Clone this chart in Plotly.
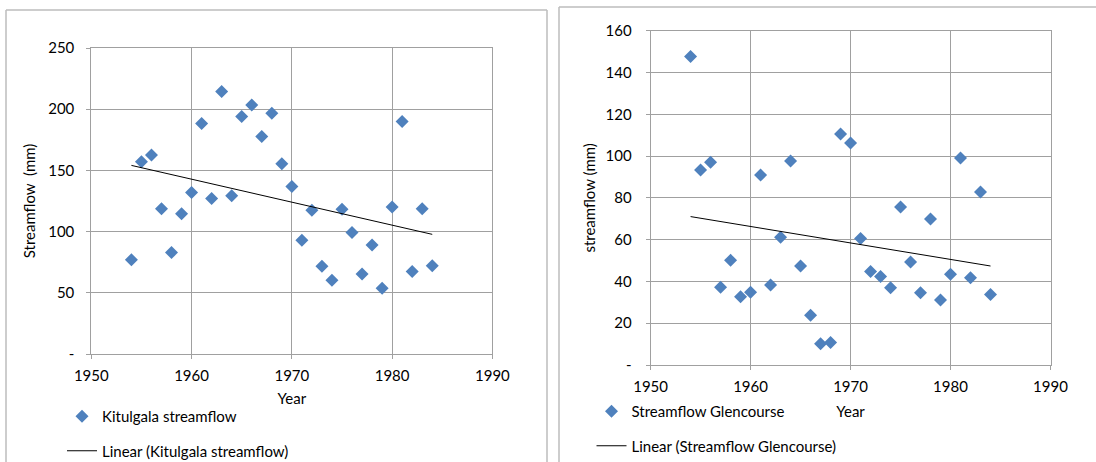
import numpy as np
import plotly.graph_objects as go

# ---------------- data ----------------
years = list(range(1954, 1985))

kitulgala = [77, 157, 162.5, 118.6, 82.9, 114.5, 132, 188.4, 127, 214.5,
             129.2, 194, 203.4, 177.7, 196.6, 155.4, 136.8, 93, 117.5, 71.7,
             60.2, 118.3, 99.2, 65.4, 89.1, 53.7, 120, 190, 67.3, 118.6, 72]

glencourse = [147.6, 93.3, 97, 37.2, 50.1, 32.7, 34.8, 90.9, 38.3, 61.1,
              97.6, 47.4, 23.8, 10.2, 10.8, 110.5, 106.2, 60.5, 44.8, 42.3,
              37, 75.6, 49.3, 34.6, 69.9, 31.1, 43.4, 99.1, 41.8, 82.8, 33.7]

x_ticks = [1950, 1960, 1970, 1980, 1990]
y1_ticks = [0, 50, 100, 150, 200, 250]
y1_text = ["-", "50", "100", "150", "200", "250"]
y2_ticks = [0, 20, 40, 60, 80, 100, 120, 140, 160]
y2_text = ["-", "20", "40", "60", "80", "100", "120", "140", "160"]

name1 = "Kitulgala streamflow"
name2 = "Streamflow Glencourse"

# ---------------- styling ----------------
W, H = 1096, 462
FONT = "Lato, Carlito, 'Open Sans', sans-serif"
FS = 15
BLUE = "#4F81BD"
GRID = "#a0a0a0"
BORDER = "#bdbdbd"


def px(x):
    return x / W


def py(y):
    return 1 - y / H


def trend(xs, ys):
    m, b = np.polyfit(xs, ys, 1)
    xe = [xs[0], xs[-1]]
    return xe, [m * v + b for v in xe]


fig = go.Figure()

# left chart
fig.add_trace(go.Scatter(x=years, y=kitulgala, mode="markers", name=name1,
                         marker=dict(symbol="diamond", size=10, color=BLUE),
                         xaxis="x", yaxis="y", legend="legend", legendgroup="a"))
tx, ty = trend(years, kitulgala)
fig.add_trace(go.Scatter(x=tx, y=ty, mode="lines", name="Linear (" + name1 + ")",
                         line=dict(color="black", width=1),
                         xaxis="x", yaxis="y", legend="legend", legendgroup="b"))

# right chart
fig.add_trace(go.Scatter(x=years, y=glencourse, mode="markers", name=name2,
                         marker=dict(symbol="diamond", size=10, color=BLUE),
                         xaxis="x2", yaxis="y2", legend="legend2", legendgroup="c"))
tx2, ty2 = trend(years, glencourse)
fig.add_trace(go.Scatter(x=tx2, y=ty2, mode="lines", name="Linear (" + name2 + ")",
                         line=dict(color="black", width=1),
                         xaxis="x2", yaxis="y2", legend="legend2", legendgroup="d"))

axis_common = dict(showgrid=True, gridcolor=GRID, gridwidth=1,
                   showline=True, linecolor=GRID, linewidth=1, mirror=True,
                   ticks="outside", ticklen=4, tickcolor=GRID,
                   zeroline=False, tickfont=dict(size=FS, color="#000"),
                   fixedrange=True, automargin=False)

fig.update_layout(
    width=W, height=H,
    margin=dict(l=0, r=0, t=0, b=0, autoexpand=False),
    paper_bgcolor="white", plot_bgcolor="white",
    font=dict(family=FONT, size=FS, color="#000"),
    xaxis=dict(domain=[px(91.3), px(492.4)], range=[1950, 1990],
               tickvals=x_ticks, anchor="y", ticklabelstandoff=4,
               title=dict(text="Year", standoff=10, font=dict(size=FS)),
               **axis_common),
    yaxis=dict(domain=[py(354), py(48)], range=[0, 250],
               tickvals=y1_ticks, ticktext=y1_text, anchor="x",
               ticklabelstandoff=9,
               title=dict(text="Streamflow&nbsp; (mm)", standoff=8, font=dict(size=FS)),
               **axis_common),
    xaxis2=dict(domain=[px(650.6), px(1050.5)], range=[1950, 1990],
                tickvals=x_ticks, anchor="y2", ticklabelstandoff=4,
                title=dict(text="Year", standoff=12, font=dict(size=FS)),
                **axis_common),
    yaxis2=dict(domain=[py(365), py(30.7)], range=[0, 160],
                tickvals=y2_ticks, ticktext=y2_text, anchor="x2",
                ticklabelstandoff=11,
                title=dict(text="streamflow (mm)", standoff=6, font=dict(size=FS)),
                **axis_common),
    legend=dict(x=px(62), y=py(400), xanchor="left", yanchor="top",
                bgcolor="rgba(0,0,0,0)", font=dict(size=FS),
                traceorder="grouped", tracegroupgap=12, itemclick=False),
    legend2=dict(x=px(591.5), y=py(395), xanchor="left", yanchor="top",
                 bgcolor="rgba(0,0,0,0)", font=dict(size=FS),
                 traceorder="grouped", tracegroupgap=12, itemclick=False),
    showlegend=True,
    shapes=[
        # left chart outer frame
        dict(type="line", xref="paper", yref="paper", x0=px(6), x1=px(6), y0=py(10), y1=0,
             line=dict(color=BORDER, width=1.5)),
        dict(type="line", xref="paper", yref="paper", x0=px(6), x1=px(547), y0=py(10), y1=py(10),
             line=dict(color=BORDER, width=1.5)),
        dict(type="line", xref="paper", yref="paper", x0=px(547), x1=px(547), y0=py(10), y1=0,
             line=dict(color=BORDER, width=1.5)),
        # right chart outer frame
        dict(type="line", xref="paper", yref="paper", x0=px(559), x1=px(559), y0=py(7), y1=0,
             line=dict(color=BORDER, width=1.5)),
        dict(type="line", xref="paper", yref="paper", x0=px(559), x1=1, y0=py(7), y1=py(7),
             line=dict(color=BORDER, width=1.5)),
    ],
)

fig.write_html("out.html", config={"displayModeBar": False},
               post_script="document.body.style.margin='0';")
